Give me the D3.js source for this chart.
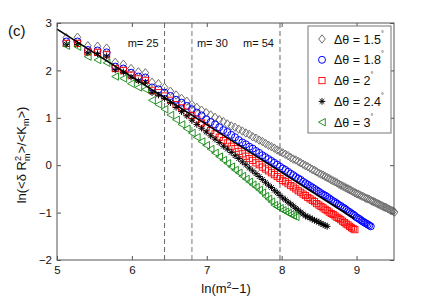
<!DOCTYPE html>
<html><head><meta charset="utf-8">
<script src="https://cdn.jsdelivr.net/npm/d3@7"></script>
<style>body{margin:0;background:#fff}svg{display:block}text{font-family:"Liberation Sans",Arial,Helvetica,sans-serif}</style>
</head><body><svg id="c" width="436" height="303"></svg>
<script>
// ---- data ----
const mAll = [13,14,15,16,17,18,19,20,21,22,23,24,25,26,27,28,29,30,31,32,33,34,35,36,37,38,39,40,
  41,42,43,44,45,46,47,48,49,50,51,52,53,54,55,56,57,58,59,60,61,62,63,64,65,66,67,68,69,70,
  71,72,73,74,75,76,77,78,79,80,81,82,83,84,85,86,87,88,89,90,91,92,93,94,95,96,97,98,99,100,
  101,102,103,104,105,106,107,108,109,110,111,112,113,114,115,116];
const seriesLabels = ["1.5","1.8","2","2.4","3"];
const y15 = [2.69,2.70,2.52,2.51,2.47,2.17,2.13,2.04,1.97,1.95,1.75,1.72,1.64,
  1.56,1.48,1.41,1.35,1.28,1.22,1.16,1.11,1.06,1.01,0.96,0.92,0.87,0.83,0.80,
  0.76,0.72,0.68,0.65,0.60,0.57,0.53,0.50,0.46,0.42,0.39,0.36,0.32,0.29,0.26,
  0.23,0.20,0.16,0.13,0.11,0.08,0.05,0.02,-0.01,-0.03,-0.06,-0.09,-0.11,-0.14,-0.17,
  -0.19,-0.21,-0.24,-0.26,-0.28,-0.31,-0.33,-0.35,-0.37,-0.40,-0.42,-0.44,-0.46,-0.48,-0.50,
  -0.52,-0.54,-0.56,-0.58,-0.60,-0.61,-0.63,-0.65,-0.66,-0.68,-0.70,-0.71,-0.72,-0.74,-0.76,
  -0.77,-0.79,-0.80,-0.82,-0.83,-0.85,-0.86,-0.88,-0.89,-0.90,-0.92,-0.93,-0.95,-0.96,-0.97,-0.99];
const y18 = [2.61,2.61,2.43,2.42,2.38,2.08,2.04,1.95,1.87,1.85,1.64,1.60,1.53,
  1.46,1.38,1.32,1.25,1.18,1.11,1.05,0.97,0.91,0.86,0.80,0.74,0.70,0.64,0.59,
  0.53,0.48,0.44,0.39,0.35,0.30,0.26,0.21,0.17,0.13,0.09,0.05,0.01,-0.03,-0.07,
  -0.10,-0.14,-0.18,-0.21,-0.25,-0.28,-0.31,-0.35,-0.38,-0.41,-0.44,-0.47,-0.50,-0.53,-0.56,
  -0.59,-0.62,-0.64,-0.67,-0.70,-0.73,-0.76,-0.78,-0.81,-0.84,-0.86,-0.89,-0.91,-0.94,-0.97,
  -0.99,-1.02,-1.04,-1.07,-1.10,-1.12,-1.14,-1.17,-1.19,-1.21,-1.23,-1.25,-1.27,-1.29];
const y20 = [2.57,2.57,2.39,2.38,2.33,2.04,2.00,1.90,1.82,1.79,1.58,1.53,1.46,
  1.37,1.28,1.21,1.12,1.05,0.97,0.89,0.80,0.73,0.66,0.59,0.52,0.47,0.40,0.35,
  0.29,0.24,0.19,0.14,0.10,0.05,0.01,-0.04,-0.08,-0.12,-0.16,-0.20,-0.24,-0.28,-0.32,
  -0.35,-0.39,-0.43,-0.46,-0.50,-0.54,-0.57,-0.61,-0.64,-0.68,-0.71,-0.74,-0.77,-0.81,-0.84,
  -0.87,-0.90,-0.93,-0.96,-0.99,-1.02,-1.04,-1.07,-1.10,-1.12,-1.15,-1.18,-1.21,-1.24,-1.26,
  -1.29,-1.32,-1.34,-1.36];
const y24 = [2.55,2.55,2.37,2.35,2.30,2.01,1.96,1.86,1.78,1.75,1.53,1.48,1.41,
  1.32,1.22,1.13,1.04,0.95,0.86,0.78,0.70,0.62,0.55,0.48,0.40,0.34,0.27,0.20,
  0.14,0.07,0.01,-0.06,-0.12,-0.18,-0.24,-0.30,-0.36,-0.42,-0.47,-0.53,-0.58,-0.64,-0.69,
  -0.73,-0.78,-0.82,-0.86,-0.91,-0.95,-0.99,-1.03,-1.07,-1.09,-1.11,-1.14,-1.16,-1.18,-1.20,
  -1.23,-1.25,-1.27,-1.29];
const y30 = [2.52,2.50,2.29,2.22,2.16,1.87,1.83,1.72,1.64,1.60,1.37,1.28,1.18,
  1.06,0.96,0.86,0.77,0.68,0.59,0.50,0.42,0.34,0.26,0.18,0.11,0.04,-0.03,-0.10,
  -0.16,-0.23,-0.29,-0.35,-0.41,-0.46,-0.52,-0.58,-0.65,-0.71,-0.77,-0.84,-0.88,-0.91,-0.95,
  -0.98,-1.01,-1.04,-1.07,-1.09];
const fitX = [5, 8.97];
const fitY = [2.87, -1.13];
const markerM = [25, 30, 54];
const markerText = ["m= 25","m= 30","m= 54"];
const xTicks = [5,6,7,8,9];
const yTicks = [-2,-1,0,1,2,3];

// ---- drawing ----
const svg = d3.select("#c");
const L=57,R=394,T=23,B=260;
const x = d3.scaleLinear().domain([5,9.5]).range([L,R]);
const y = d3.scaleLinear().domain([-2,3]).range([B,T]);
const lx = m => Math.log(m*m-1);
const axCol = "#555";

// dashed marker lines
const dashStyle = [{c:"#666",w:1},{c:"#aaa",w:1.6},{c:"#666",w:1}];
markerM.forEach((m,i)=>{
  svg.append("line").attr("x1",x(lx(m))).attr("x2",x(lx(m))).attr("y1",T).attr("y2",B)
    .attr("stroke",dashStyle[i].c).attr("stroke-width",dashStyle[i].w).attr("stroke-dasharray","5,3");
});
const labelPlace = [{dx:-6,a:"end"},{dx:5,a:"start"},{dx:-6,a:"end"}];
markerM.forEach((m,i)=>{
  svg.append("text").attr("x",x(lx(m))+labelPlace[i].dx).attr("y",47).attr("text-anchor",labelPlace[i].a)
    .attr("font-size",11).attr("fill","#111").text(markerText[i]);
});

// symbols
function sym(g, shape, col){
  if(shape==="diamond") g.append("path").attr("d","M0,-4.2L3.3,0L0,4.2L-3.3,0Z").attr("fill","none").attr("stroke",col).attr("stroke-width",1);
  else if(shape==="circle") g.append("circle").attr("r",3.5).attr("fill","none").attr("stroke",col).attr("stroke-width",1);
  else if(shape==="square") g.append("rect").attr("x",-3.1).attr("y",-3.1).attr("width",6.2).attr("height",6.2).attr("fill","none").attr("stroke",col).attr("stroke-width",0.9);
  else if(shape==="star") g.append("path").attr("d","M-3.3,0L3.3,0M0,-3.3L0,3.3M-2.3,-2.3L2.3,2.3M-2.3,2.3L2.3,-2.3").attr("stroke",col).attr("stroke-width",1);
  else if(shape==="tri") g.append("path").attr("d","M-3.5,0L3.3,-3.7L3.3,3.7Z").attr("fill","none").attr("stroke",col).attr("stroke-width",0.9);
}
const series = [
  {vals:y15, col:"#6e6e6e", shape:"diamond"},
  {vals:y18, col:"#0000ff", shape:"circle"},
  {vals:y20, col:"#ff0000", shape:"square"},
  {vals:y24, col:"#000000", shape:"star"},
  {vals:y30, col:"#118811", shape:"tri"}
];
series.forEach(s=>{
  const g = svg.append("g");
  s.vals.forEach((v,i)=>{
    const m = mAll[i];
    const p = g.append("g").attr("transform",`translate(${x(lx(m))},${y(v)})`);
    sym(p, s.shape, s.col);
  });
});

// fit line
svg.append("line").attr("x1",x(fitX[0])).attr("y1",y(fitY[0])).attr("x2",x(fitX[1])).attr("y2",y(fitY[1]))
  .attr("stroke","#000").attr("stroke-width",1.6);

// axes
const ax = (g)=>{g.select(".domain").remove(); g.selectAll("line").attr("stroke",axCol); g.selectAll("text").attr("fill","#111").attr("font-size",11.5);};
svg.append("g").attr("transform",`translate(0,${B})`).call(d3.axisBottom(x).tickValues(xTicks).tickSize(-4).tickPadding(6).tickFormat(d3.format("d"))).call(ax);
svg.append("g").attr("transform",`translate(0,${T})`).call(d3.axisTop(x).tickValues(xTicks).tickSize(-4).tickFormat("")).call(ax);
svg.append("g").attr("transform",`translate(${L},0)`).call(d3.axisLeft(y).tickValues(yTicks).tickSize(-4).tickPadding(5).tickFormat(d=>d<0?"\u2212"+Math.abs(d):d)).call(ax);
svg.append("g").attr("transform",`translate(${R},0)`).call(d3.axisRight(y).tickValues(yTicks).tickSize(-4).tickFormat("")).call(ax);
svg.append("rect").attr("x",L).attr("y",T).attr("width",R-L).attr("height",B-T).attr("fill","none").attr("stroke",axCol).attr("stroke-width",1);

// legend
const lg = svg.append("g");
lg.append("rect").attr("x",308).attr("y",26).attr("width",83).attr("height",107).attr("fill","#fff").attr("stroke","#777").attr("stroke-width",1);
series.forEach((s,i)=>{
  const yy = 39 + i*20.8;
  const p = lg.append("g").attr("transform",`translate(322,${yy})`);
  sym(p, s.shape, s.col);
  const t = lg.append("text").attr("x",334).attr("y",yy+4.5).attr("font-size",12.5).attr("fill","#111");
  t.append("tspan").text("\u0394\u03b8 = "+seriesLabels[i]);
  t.append("tspan").attr("dy",-8).attr("font-size",7).text("\u00b0");
});

// labels
svg.append("text").attr("x",8).attr("y",36).attr("font-size",15).attr("fill","#111").text("(c)");
const xl = svg.append("text").attr("x",226).attr("y",293).attr("text-anchor","middle").attr("font-size",13).attr("fill","#111");
xl.append("tspan").text("ln(m");
xl.append("tspan").attr("dy",-5).attr("font-size",9).text("2");
xl.append("tspan").attr("dy",5).text("\u22121)");
const yl = svg.append("text").attr("transform","translate(26,155) rotate(-90)").attr("text-anchor","middle").attr("font-size",13).attr("fill","#111");
yl.append("tspan").text("ln(<\u03b4 R");
yl.append("tspan").attr("dy",-5).attr("font-size",9).text("2");
yl.append("tspan").attr("dx",-5).attr("dy",9).attr("font-size",9).text("m");
yl.append("tspan").attr("dy",-4).text(">/<K");
yl.append("tspan").attr("dy",3).attr("font-size",9).text("m");
yl.append("tspan").attr("dy",-3).text(">)");
</script></body></html>
